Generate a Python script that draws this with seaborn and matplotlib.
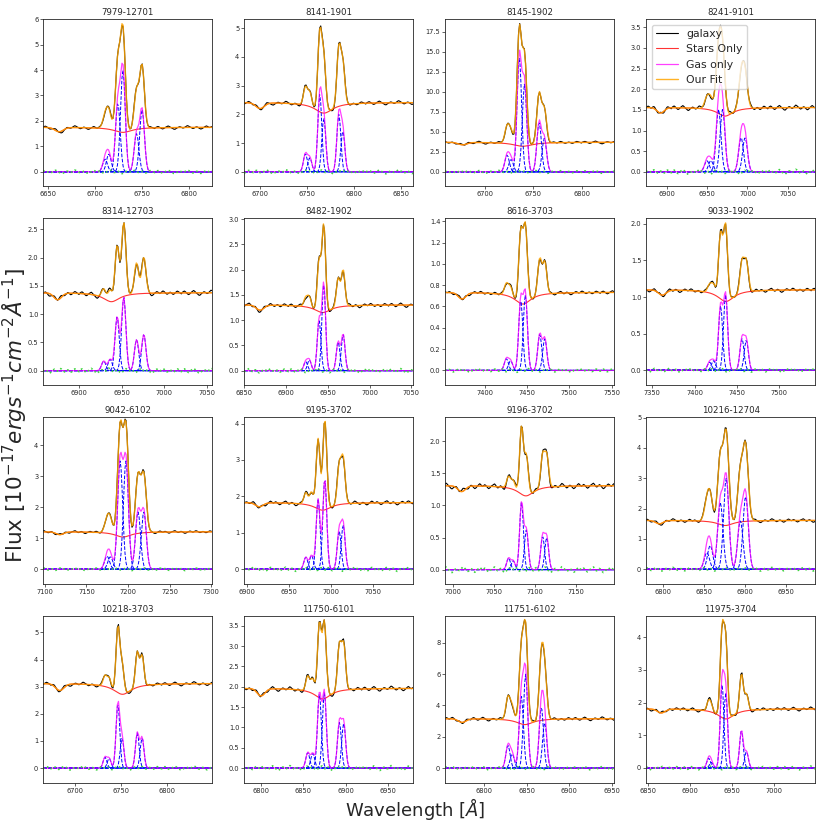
import numpy as np
import matplotlib
matplotlib.use('Agg')
import matplotlib.pyplot as plt
from matplotlib.ticker import MultipleLocator
import seaborn as sns

# panel ids (plate-ifu)
names = ['7979-12701', '8141-1901', '8145-1902', '8241-9101',
         '8314-12703', '8482-1902', '8616-3703', '9033-1902',
         '9042-6102', '9195-3702', '9196-3702', '10216-12704',
         '10218-3703', '11750-6101', '11751-6102', '11975-3704']

# axis ranges
x_lo = [6645, 6683, 6659, 6874, 6858, 6850, 7353, 7343, 7098, 6897, 6991, 6780, 6666, 6780, 6754, 6848]
x_hi = [6825, 6863, 6833, 7084, 7056, 7052, 7553, 7542, 7301, 7097, 7196, 6985, 6849, 6980, 6953, 7049]
y_lo = [-0.55, -0.49, -1.75, -0.34, -0.25, -0.28, -0.135, -0.2, -0.47, -0.40, -0.22, -0.48, -0.54, -0.36, -0.93, -0.45]
y_hi = [6.0, 5.31, 19.1, 3.70, 2.70, 3.02, 1.43, 2.08, 4.92, 4.18, 2.38, 5.02, 5.61, 3.74, 9.72, 4.65]
y_step = [1, 1, 2.5, 0.5, 0.5, 0.5, 0.2, 0.5, 1, 1, 0.5, 1, 1, 0.5, 2, 1]

# stellar continuum: level, blue absorption feature, H-alpha absorption
continuum = [1.75, 2.41, 3.7, 1.56, 1.38, 1.30, 0.733, 1.10, 1.21, 1.83, 1.31, 1.61, 3.12, 1.96, 3.16, 1.81]
abs_blue_wave = [6662, 6700, 6677, 6892, 6875, 6869, 7373, 7362, 7118, 6915, 7011, 6796, 6684, 6800, 6774, 6866]
abs_blue_depth = [0.17, 0.2, 0.3, 0.13, 0.12, 0.10, 0.06, 0.07, 0.09, 0.11, 0.09, 0.11, 0.25, 0.18, 0.23, 0.12]
abs_ha_wave = [6730, 6768, 6739, 6972, 6938, 6944, 7445, 7437, 7194, 6990, 7089, 6876, 6752, 6873, 6848, 6943]
abs_ha_depth = [0.2, 0.37, 0.5, 0.21, 0.16, 0.15, 0.11, 0.16, 0.17, 0.21, 0.16, 0.17, 0.4, 0.26, 0.38, 0.31]

# gas components: [NII6548 a, b, Halpha a, b, NII6583 a, b]
line_sigma = [2.5, 2.1, 2.3, 3.0, 2.5, 2.2, 2.4, 2.4, 3.0, 2.3, 2.3, 3.2, 2.0, 2.3, 2.5, 2.2]
comp_waves = [
    [6711, 6715, 6724.6, 6730, 6744.5, 6750.4],
    [6748.3, 6753, 6763.6, 6767.9, 6783.9, 6788.2],
    [6722.8, 6726.9, 6735.4, 6740.8, 6755.8, 6761.2],
    [6949.5, 6954.5, 6964, 6969, 6992, 6997],
    [6929, 6936.5, 6944.7, 6952.5, 6967.5, 6976],
    [6923.6, 6928, 6939.6, 6945.2, 6962.4, 6968.4],
    [7425.5, 7430.5, 7442.5, 7448, 7465, 7471],
    [7417.7, 7422.4, 7430.7, 7436.6, 7455.9, 7461],
    [7174.8, 7178.8, 7190.5, 7197.5, 7212, 7219],
    [6970, 6976.7, 6984.6, 6992.5, 7009.5, 7014.3],
    [7068, 7073.5, 7083.7, 7089.6, 7109.3, 7114.3],
    [6853.7, 6857.7, 6870, 6877.2, 6894.3, 6900.8],
    [6733, 6737.5, 6747, 6751.5, 6768, 6773.2],
    [6855.3, 6861.2, 6869.1, 6875, 6892.8, 6897.9],
    [6828, 6833, 6843.7, 6848.8, 6867.3, 6871.3],
    [6922.4, 6925.6, 6938.3, 6942.7, 6961.4, 6967.4],
]
comp_amps = [
    [0.5, 0.7, 2.7, 4.0, 1.5, 2.45],
    [0.63, 0.49, 2.7, 1.87, 2.0, 1.42],
    [2.1, 1.55, 14.4, 11.0, 6.2, 4.2],
    [0.27, 0.27, 1.51, 1.51, 0.83, 0.83],
    [0.17, 0.2, 0.95, 1.3, 0.55, 0.64],
    [0.18, 0.21, 1.0, 1.72, 0.57, 0.72],
    [0.11, 0.09, 0.66, 0.71, 0.34, 0.3],
    [0.11, 0.13, 0.88, 1.03, 0.43, 0.41],
    [0.42, 0.4, 3.5, 3.5, 1.85, 1.85],
    [0.33, 0.38, 1.93, 2.48, 1.05, 1.22],
    [0.18, 0.14, 1.05, 0.62, 0.52, 0.5],
    [0.55, 0.78, 2.2, 3.0, 1.6, 2.4],
    [0.4, 0.36, 2.4, 1.1, 1.3, 1.12],
    [0.38, 0.36, 1.82, 1.86, 1.12, 1.1],
    [1.45, 0.9, 4.6, 6.0, 3.9, 2.9],
    [0.3, 0.17, 2.57, 2.3, 1.15, 0.5],
]

# residual (galaxy - fit) size per panel and its typical shape
noise = [0.07, 0.07, 0.18, 0.06, 0.045, 0.045, 0.018, 0.03, 0.045, 0.06, 0.045, 0.06, 0.075, 0.06, 0.12, 0.06]
resid_pattern = [0.2, 0.5, 0.7, 0.4, 0.0, -0.4, -0.7, -0.5, -0.1, 0.3, 0.6, 0.9, 0.6, 0.2, -0.2,
                 -0.5, -0.9, -1.0, -0.6, -0.2, 0.1, 0.4, 0.3, 0.0, -0.3, -0.2, 0.2, 0.6, 1.0, 0.8,
                 0.4, 0.1, -0.3, -0.6, -0.4, 0.0, 0.3, 0.2, -0.2, -0.6, -0.9, -0.7, -0.3, 0.1, 0.5,
                 0.8, 0.5, 0.1, -0.1, 0.2, 0.5, 0.3, -0.1, -0.5, -0.8, -0.6, -0.2, 0.2, 0.4, 0.7,
                 0.9, 0.5, 0.0, -0.4, -0.3, 0.1, 0.4, 0.2, -0.2, -0.7, -1.0, -0.8, -0.4, 0.0, 0.3,
                 0.6, 0.4, 0.1, -0.2, 0.1, 0.5, 0.8, 0.6, 0.2, -0.2, -0.5, -0.3, 0.0, 0.3, 0.1,
                 -0.3, -0.6, -0.4, 0.0, 0.4, 0.7, 0.5, 0.2, -0.1, -0.4]


def gauss(w, c, a, s):
    return a * np.exp(-0.5 * ((w - c) / s) ** 2)


sns.set_style('ticks')
plt.rcParams['font.family'] = ['DejaVu Sans']

fig, axes = plt.subplots(4, 4, figsize=(8.3, 8.3), dpi=100)
fig.subplots_adjust(left=0.052, right=0.982, bottom=0.057, top=0.977, wspace=0.19, hspace=0.193)

kw = dict(estimator=None, sort=False, legend=False)
for i, ax in enumerate(axes.flat):
    wave = np.arange(x_lo[i], x_hi[i] + 0.6, 1.2)

    # stellar model
    stars = (continuum[i]
             - gauss(wave, abs_blue_wave[i], abs_blue_depth[i], 4.5)
             - abs_ha_depth[i] / (1 + ((wave - abs_ha_wave[i]) / 12.0) ** 2))

    # gas model from the individual components
    comps = [gauss(wave, c, a, line_sigma[i]) for c, a in zip(comp_waves[i], comp_amps[i])]
    gas = np.sum(comps, axis=0)
    fit = stars + gas

    resid = noise[i] * np.resize(np.roll(resid_pattern, 9 * i), len(wave))
    galaxy = fit + resid

    sns.lineplot(x=wave, y=galaxy, ax=ax, color='black', lw=0.8, label='galaxy', **kw)
    sns.lineplot(x=wave, y=stars, ax=ax, color='red', lw=0.8, alpha=0.8, label='Stars Only', **kw)
    for comp in comps:
        sns.lineplot(x=wave, y=comp, ax=ax, color='blue', lw=0.7, linestyle='--', **kw)
    sns.lineplot(x=wave, y=gas, ax=ax, color='magenta', lw=0.9, alpha=0.75, label='Gas only', **kw)
    sns.lineplot(x=wave, y=fit, ax=ax, color='orange', lw=1.0, alpha=0.85, label='Our Fit', **kw)
    sns.lineplot(x=wave, y=resid, ax=ax, color='#3fd43f', lw=1.2, linestyle=':', **kw)

    ax.set_xlim(x_lo[i], x_hi[i])
    ax.set_ylim(y_lo[i], y_hi[i])
    ax.xaxis.set_major_locator(MultipleLocator(50))
    ax.yaxis.set_major_locator(MultipleLocator(y_step[i]))
    ax.tick_params(labelsize=4.8, length=2, width=0.5, pad=1.5)
    for sp in ax.spines.values():
        sp.set_linewidth(0.6)
    ax.set_title(names[i], fontsize=6.2, pad=3)
    ax.set_xlabel('')
    ax.set_ylabel('')
    if i == 3:
        ax.legend(loc='upper left', fontsize=7.8)

fig.text(0.5, 0.025, r'Wavelength [$\AA$]', ha='center', va='center', fontsize=13)
fig.text(0.018, 0.5, r'Flux [$10^{-17} ergs^{-1}cm^{-2}\AA^{-1}$]',
         rotation=90, ha='center', va='center', fontsize=15.5)

fig.savefig('out.png', dpi=100)
